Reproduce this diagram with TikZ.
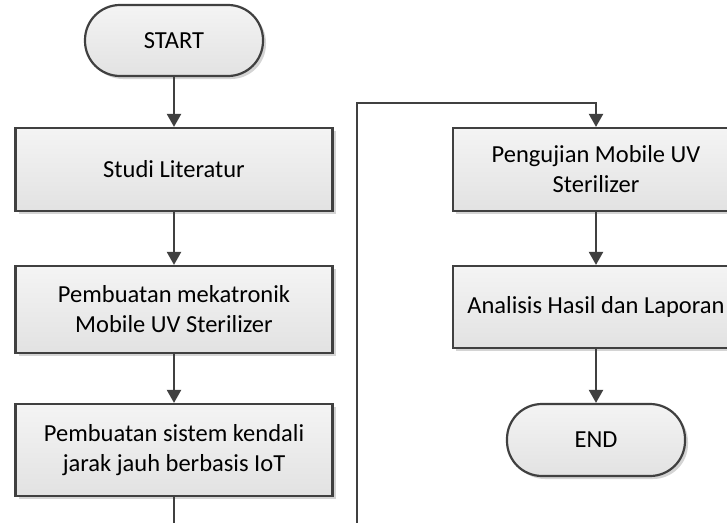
\documentclass[tikz,border=0pt]{standalone}
\usepackage{fontspec}
\setmainfont{Carlito}
\usetikzlibrary{arrows.meta,shadows}
\definecolor{linegray}{HTML}{404040}
\definecolor{boxtop}{HTML}{F4F4F4}
\definecolor{boxbot}{HTML}{E2E2E2}
\definecolor{shadowgray}{HTML}{D4D4D4}
\begin{document}
\begin{tikzpicture}[x=1pt,y=-1pt,
  box/.style={draw=linegray, line width=2.2pt, top color=boxtop, bottom color=boxbot,
    drop shadow={shadow xshift=3pt, shadow yshift=-3pt, fill=shadowgray, opacity=1},
    inner sep=0pt, align=center, font=\fontsize{24.5}{30}\selectfont},
  term/.style={box, rounded corners=35pt},
  conn/.style={draw=linegray, line width=2.2pt, -{Triangle[length=13pt,width=14pt]}}]
\useasboundingbox (0,0) rectangle (727,522);
\fill[white] (0,0) rectangle (727,522);
\clip (0,0) rectangle (727,522);
% left column
\node[term, minimum width=178pt, minimum height=71pt] (start) at (174,40.5) {START};
\node[box, minimum width=317pt, minimum height=83pt] (b1) at (174,169.5) {Studi Literatur};
\node[box, minimum width=317pt, minimum height=87pt] (b2) at (174,309.5) {Pembuatan mekatronik\\Mobile UV Sterilizer};
\node[box, minimum width=317pt, minimum height=92pt] (b3) at (174,450) {Pembuatan sistem kendali\\jarak jauh berbasis IoT};
% right column
\node[box, minimum width=286pt, minimum height=83pt] (r1) at (596,169.5) {Pengujian Mobile UV\\Sterilizer};
\node[box, minimum width=286pt, minimum height=82pt] (r2) at (596,307) {Analisis Hasil dan Laporan};
\node[term, minimum width=178pt, minimum height=72pt] (end) at (596,440) {END};
% connectors
\draw[conn] (start.south) -- (b1.north);
\draw[conn] (b1.south) -- (b2.north);
\draw[conn] (b2.south) -- (b3.north);
\draw[conn] (r1.south) -- (r2.north);
\draw[conn] (r2.south) -- (end.north);
\coordinate (lb) at (357,545);
\coordinate (lt) at (357,103);
\draw[conn] (b3.south) -- (b3.south |- lb) -| (lt) -| (r1.north);
\end{tikzpicture}
\end{document}
